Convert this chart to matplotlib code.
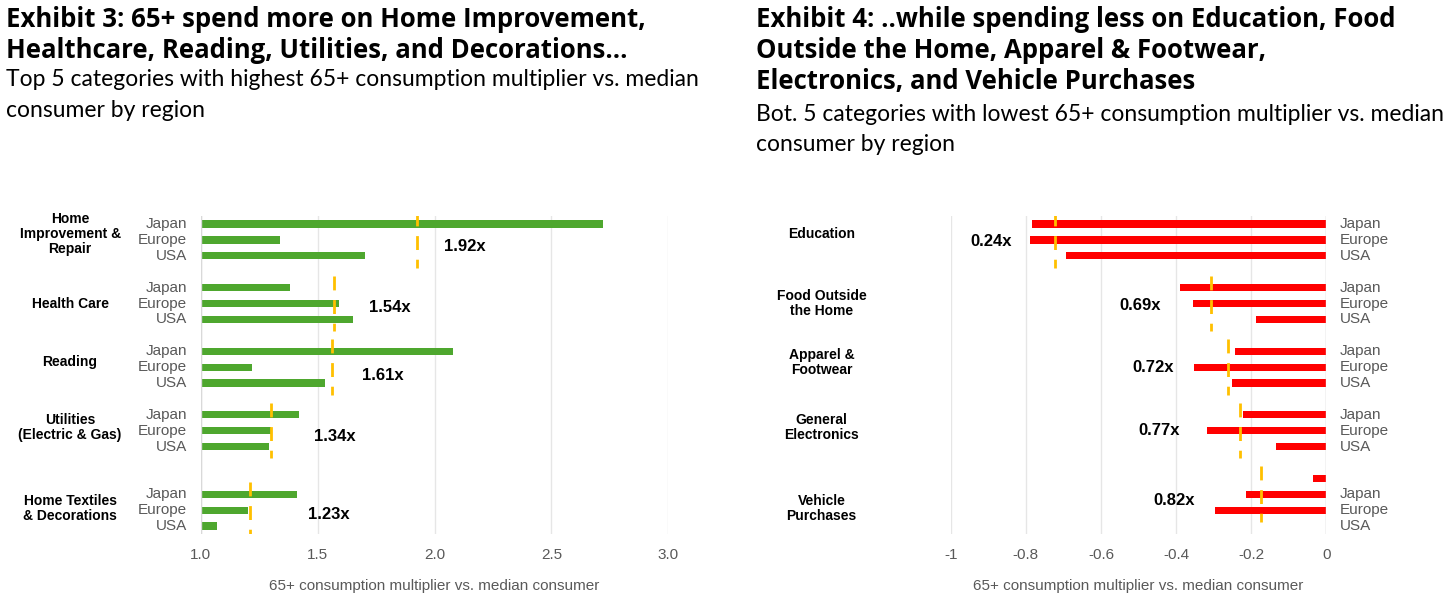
import matplotlib.pyplot as plt

regions = ["Japan", "Europe", "USA"]

# Exhibit 3 - top 5 categories
top_cats = ["Home\nImprovement &\nRepair", "Health Care", "Reading",
            "Utilities\n(Electric & Gas)", "Home Textiles\n& Decorations"]
top_vals = [[2.72, 1.34, 1.70],
            [1.38, 1.59, 1.65],
            [2.08, 1.22, 1.53],
            [1.42, 1.30, 1.29],
            [1.41, 1.20, 1.07]]
top_avg = [1.925, 1.57, 1.56, 1.30, 1.21]
top_labels = ["1.92x", "1.54x", "1.61x", "1.34x", "1.23x"]

# Exhibit 4 - bottom 5 categories
bot_cats = ["Education", "Food Outside\nthe Home", "Apparel &\nFootwear",
            "General\nElectronics", "Vehicle\nPurchases"]
bot_vals = [[-0.785, -0.79, -0.693],
            [-0.389, -0.355, -0.188],
            [-0.244, -0.353, -0.252],
            [-0.221, -0.319, -0.135],
            [-0.037, -0.214, -0.297]]
bot_avg = [-0.722, -0.306, -0.263, -0.229, -0.174]
bot_labels = ["0.24x", "0.69x", "0.72x", "0.77x", "0.82x"]

# slot positions
group_start = [0, 4, 8, 12, 17]
bot_start = [0, 4, 8, 12, 16]
cat_y = [0.6, 5.0, 8.7, 12.8, 17.9]
top_lab_pos = [(2.04, 1.4), (1.72, 5.25), (1.69, 9.5), (1.485, 13.35), (1.46, 18.25)]
bot_lab_pos = [(-0.838, 1.1), (-0.44, 5.1), (-0.407, 9.0), (-0.389, 13.0), (-0.349, 17.4)]

fig = plt.figure(figsize=(14.56, 6.02), dpi=100)
base = "Liberation Sans"
gray = "#595959"

fig.text(0.004, 0.99, "Exhibit 3: 65+ spend more on Home Improvement,\nHealthcare, Reading, Utilities, and Decorations...",
         fontsize=18.5, fontweight="bold", family="Open Sans", va="top", linespacing=1.2)
fig.text(0.004, 0.885, "Top 5 categories with highest 65+ consumption multiplier vs. median\nconsumer by region",
         fontsize=16.5, family="Lato", va="top", linespacing=1.55)
fig.text(0.519, 0.99, "Exhibit 4: ..while spending less on Education, Food\nOutside the Home, Apparel & Footwear,\nElectronics, and Vehicle Purchases",
         fontsize=18.5, fontweight="bold", family="Open Sans", va="top", linespacing=1.2)
fig.text(0.519, 0.828, "Bot. 5 categories with lowest 65+ consumption multiplier vs. median\nconsumer by region",
         fontsize=16.5, family="Lato", va="top", linespacing=1.55)


def style(ax, ticks, ticklabels):
    ax.set_ylim(19.5, -0.5)
    ax.set_xticks(ticks)
    ax.set_xticklabels(ticklabels, fontsize=11, color=gray, family=base)
    ax.grid(axis="x", color="#e6e6e6", lw=1)
    ax.set_axisbelow(True)
    for s in ax.spines.values():
        s.set_visible(False)
    ax.tick_params(length=0, pad=10)
    ax.set_yticks([])
    ax.set_xlabel("65+ consumption multiplier vs. median consumer", fontsize=11,
                  color=gray, family=base, labelpad=12)


# left chart
ax1 = fig.add_axes([0.138, 0.113, 0.321, 0.528])
for g in range(5):
    ys = [group_start[g] + i for i in range(3)]
    ax1.barh(ys, [v - 1 for v in top_vals[g]], left=1, height=0.45, color="#4ea72e")
    for y, r in zip(ys, regions):
        ax1.text(0.94, y, r, ha="right", va="center", fontsize=11, color=gray, family=base)
    ax1.plot([top_avg[g], top_avg[g]], [ys[0] - 0.75, ys[2] + 0.75], color="#ffc000",
             lw=2, ls=(0, (5, 3.5)))
    ax1.text(top_lab_pos[g][0], top_lab_pos[g][1], top_labels[g], fontsize=12,
             fontweight="bold", family=base, va="center")
    ax1.text(0.44, cat_y[g], top_cats[g], ha="center", va="center",
             fontsize=10, fontweight="bold", family=base, linespacing=1.1)
ax1.set_xlim(1.0, 3.0)
style(ax1, [1.0, 1.5, 2.0, 2.5, 3.0], ["1.0", "1.5", "2.0", "2.5", "3.0"])
ax1.axvline(1.0, color="#d9d9d9", lw=1)

# right chart
ax2 = fig.add_axes([0.653, 0.113, 0.258, 0.528])
for g in range(5):
    ys = [bot_start[g] + i for i in range(3)]
    ax2.barh(ys, bot_vals[g], height=0.45, color="#ff0000")
    for i, r in enumerate(regions):
        y = group_start[g] + i
        ax2.text(0.035, y, r, ha="left", va="center", fontsize=11, color=gray, family=base)
    ax2.plot([bot_avg[g], bot_avg[g]], [ys[0] - 0.75, ys[2] + 0.75], color="#ffc000",
             lw=2, ls=(0, (5, 3.5)))
    ax2.text(bot_lab_pos[g][0], bot_lab_pos[g][1], bot_labels[g], fontsize=12,
             fontweight="bold", family=base, va="center", ha="right")
    ax2.text(-1.344, cat_y[g], bot_cats[g], ha="center",
             va="center", fontsize=10, fontweight="bold", family=base, linespacing=1.1)
ax2.set_xlim(-1.0, 0.0)
style(ax2, [-1, -0.8, -0.6, -0.4, -0.2, 0], ["-1", "-0.8", "-0.6", "-0.4", "-0.2", "0"])
ax2.axvline(0, color="#d9d9d9", lw=1)

fig.savefig("out.png", dpi=100)
